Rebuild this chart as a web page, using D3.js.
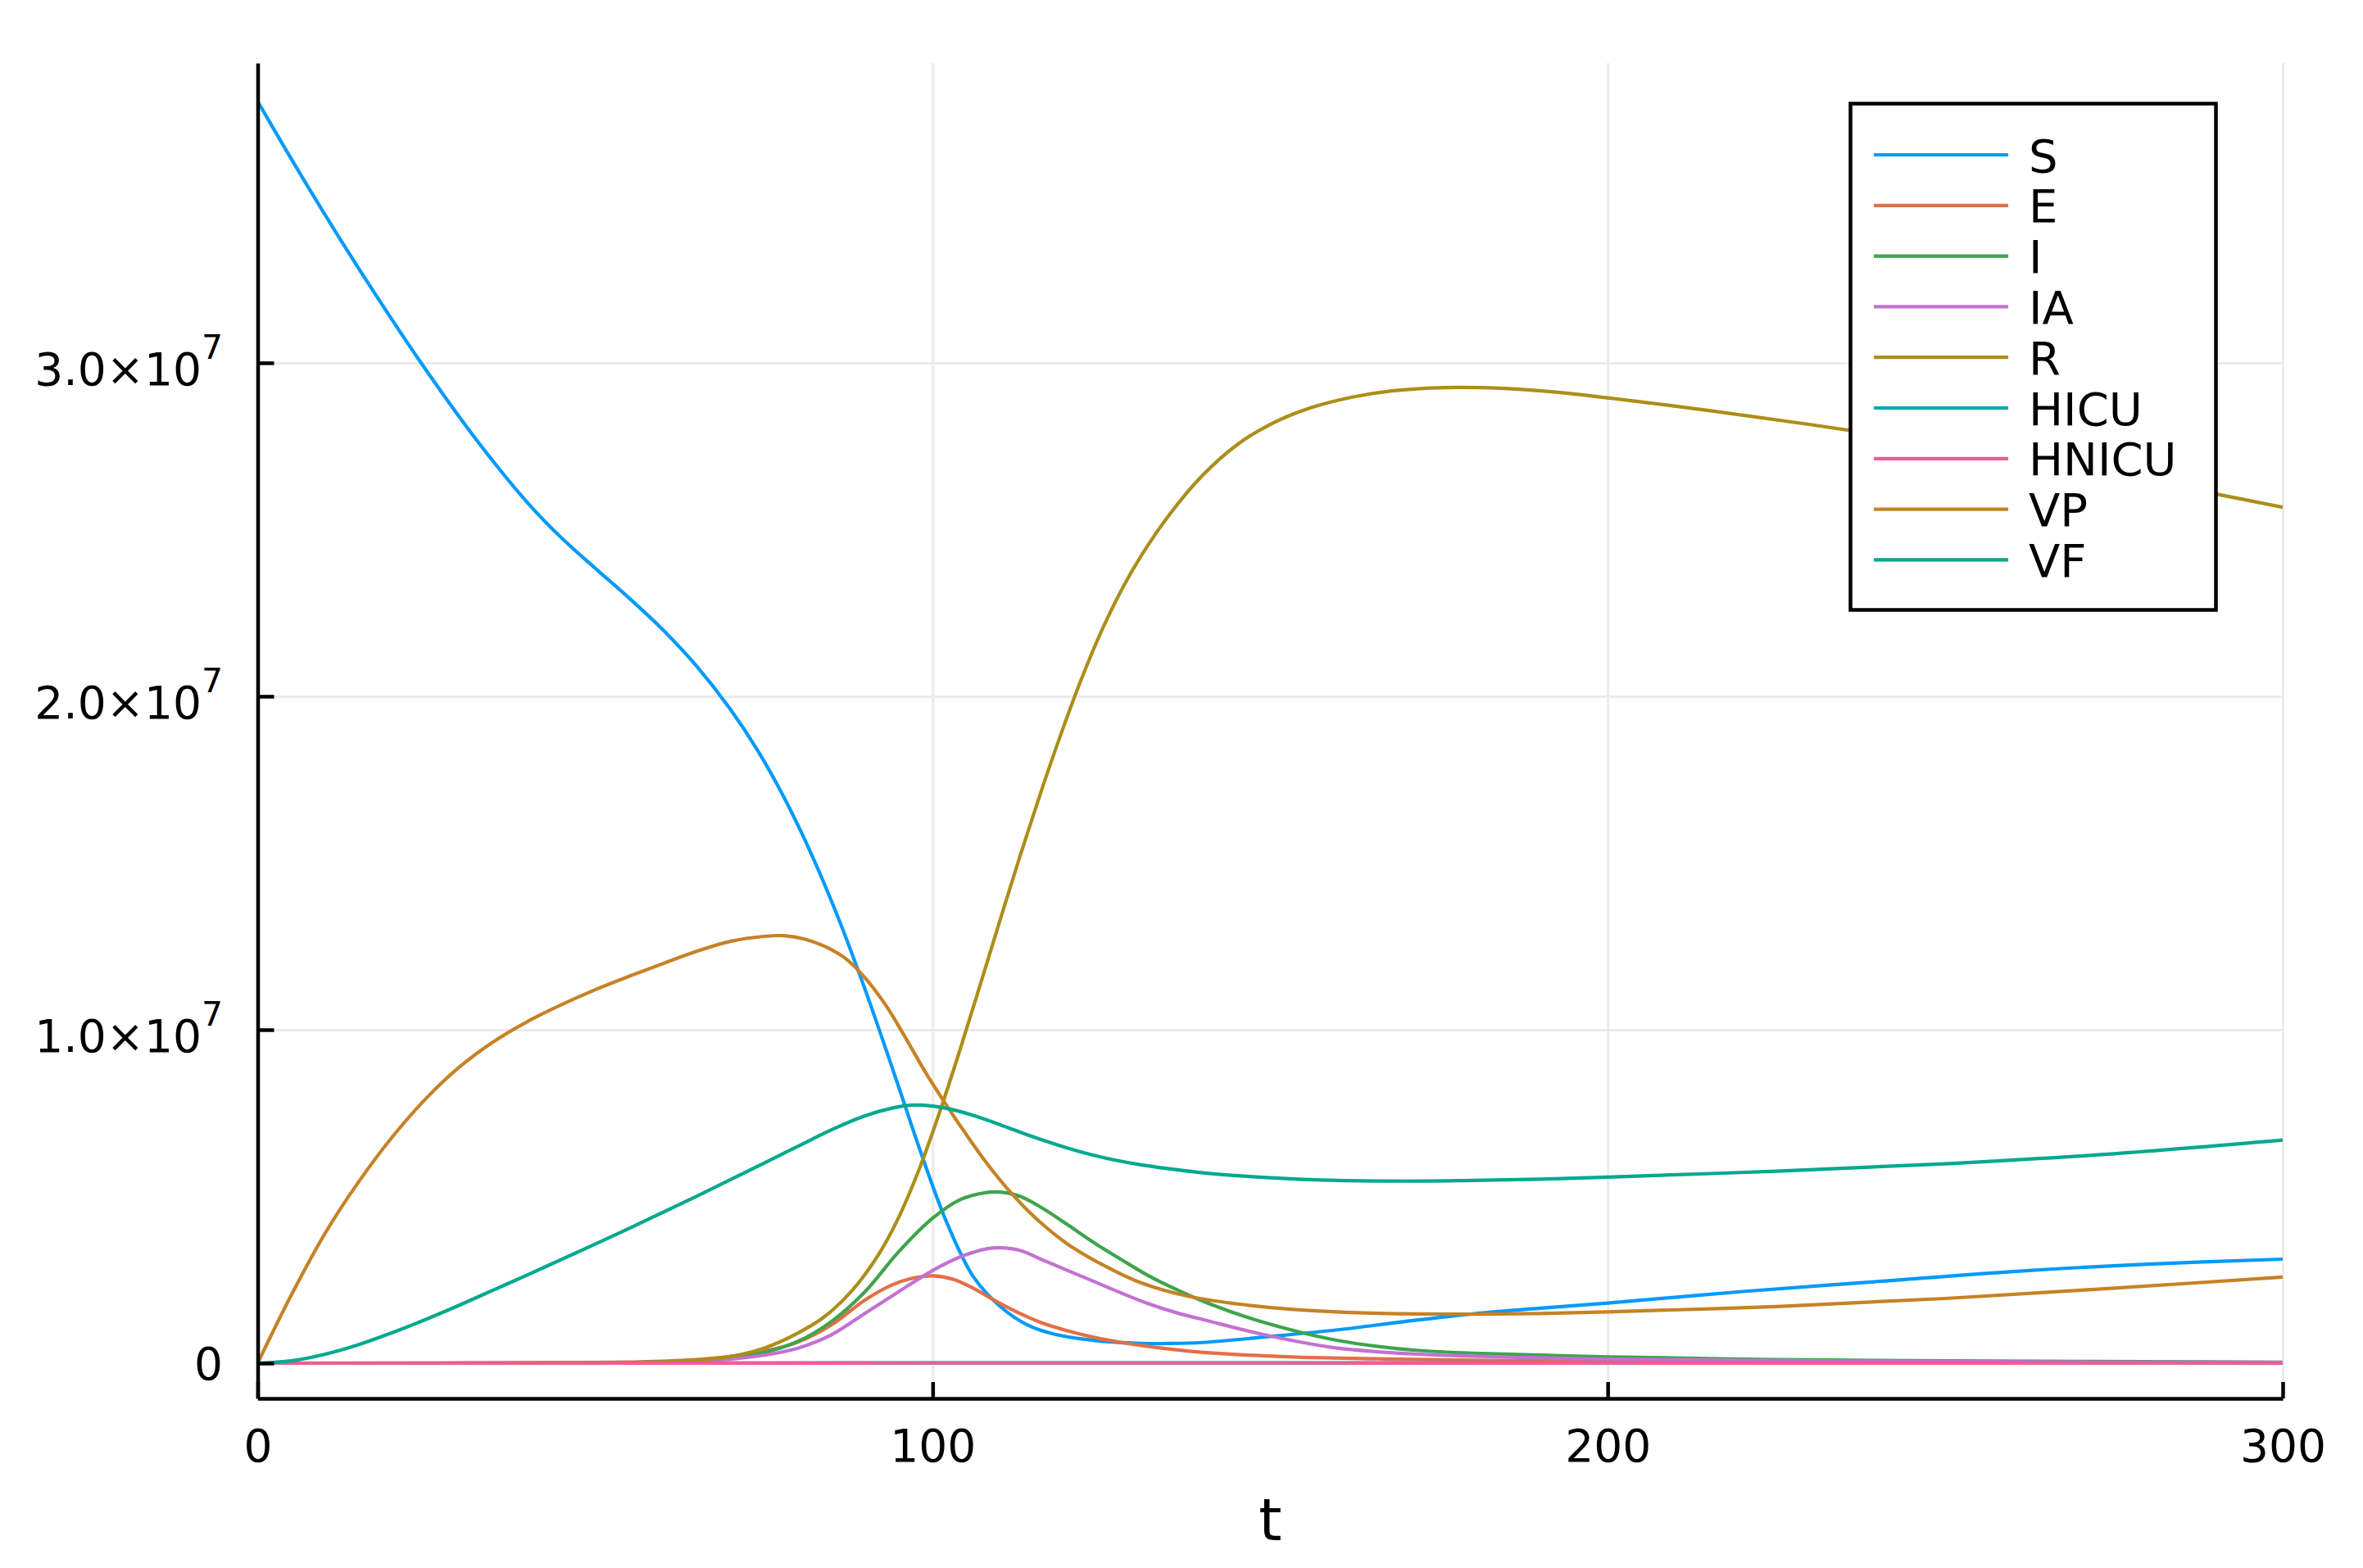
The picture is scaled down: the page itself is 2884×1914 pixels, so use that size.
<!DOCTYPE html>
<html><head><meta charset="utf-8">
<script src="https://cdn.jsdelivr.net/npm/d3@7"></script>
<style>body{margin:0;background:#fff}</style>
</head><body>
<svg id="c" width="2884" height="1914"></svg>
<script>
// ---- data (values in units of 1e7) ----
const UNIT = 1e7;
const seriesNames  = ["S","E","I","IA","R","HICU","HNICU","VP","VF"];
const seriesColors = ["#009AFA","#E36F47","#3EA44E","#C371D2","#AC8E18","#00AAAE","#ED5E93","#C68225","#00A98D"];
const xTicks = [0,100,200,300];
const yTicks = [0,1e7,2e7,3e7];
const yTickLabels = [["0",""],["1.0×10","7"],["2.0×10","7"],["3.0×10","7"]];
const xLabel = "t";

const tS = [0,6,12,18,24,32,40,45,50,55,60,65,70,74,78,82,86,90,94,96,98,102,106,110,114,118,124,130,135,140,150,160,170,180,190,200,220,240,260,280,300];
const vS = [3.784,3.577,3.378,3.188,3.006,2.78,2.58,2.475,2.384,2.295,2.2,2.091,1.962,1.84,1.696,1.528,1.336,1.12,0.886,0.766,0.646,0.426,0.26,0.17,0.115,0.087,0.068,0.06,0.059,0.062,0.08,0.10,0.125,0.148,0.165,0.18,0.215,0.245,0.275,0.297,0.312];

const tE = [0,50,60,65,70,75,80,85,90,94,97,100,103,106,109,112,116,120,124,128,132,138,145,154,166,180,200,250,300];
const vE = [0,0.002,0.006,0.011,0.02,0.036,0.063,0.115,0.19,0.235,0.255,0.262,0.252,0.225,0.19,0.158,0.122,0.097,0.077,0.062,0.05,0.036,0.026,0.018,0.013,0.009,0.006,0.003,0.002];

const tI = [0,50,60,65,70,75,80,85,90,95,100,104,108,110,113,116,120,124,128,132,136,141,147,154,160,166,172,180,190,200,225,250,300];
const vI = [0,0.001,0.004,0.008,0.015,0.032,0.065,0.125,0.215,0.335,0.435,0.49,0.512,0.513,0.5,0.468,0.415,0.36,0.31,0.262,0.222,0.178,0.135,0.095,0.068,0.05,0.038,0.03,0.024,0.019,0.011,0.007,0.003];

const tIA = [0,50,60,65,70,75,80,85,90,95,100,104,108,110,113,116,120,124,128,132,136,141,147,154,160,166,172,180,190,200,250,300];
const vIA = [0,0.001,0.003,0.006,0.012,0.024,0.045,0.085,0.15,0.215,0.278,0.318,0.343,0.346,0.338,0.312,0.278,0.244,0.21,0.178,0.152,0.126,0.095,0.065,0.045,0.034,0.027,0.021,0.016,0.012,0.005,0.002];

const tR = [0,50,60,65,70,75,80,84,88,92,95,98,101,104,107,110,113,116,119,122,125,128,131,135,140,145,150,156,162,168,176,184,192,200,215,230,245,260,275,290,300];
const vR = [0,0.001,0.004,0.009,0.02,0.045,0.09,0.14,0.2165,0.3265,0.439,0.5815,0.751,0.937,1.132,1.33,1.525,1.711,1.8865,2.05,2.1955,2.32,2.425,2.543,2.663,2.753,2.8155,2.865,2.8965,2.916,2.926,2.924,2.913,2.895,2.857,2.815,2.77,2.72,2.666,2.607,2.567];

const tHICU = [0,50,100,150,200,250,300];
const vHICU = [0,0,0.001,0.001,0.0005,0.0003,0.0002];

const tHNICU = [0,50,100,150,200,250,300];
const vHNICU = [0,0,0.0005,0.0005,0.0003,0.0002,0.0001];

const tVP = [0,5,10,15,20,25,30,35,40,45,50,55,60,65,70,75,78,81,84,87,90,93,96,99,102,105,108,111,115,120,125,131,138,145,153,165,178,190,200,225,250,275,300];
const vVP = [0,0.205,0.39,0.545,0.68,0.795,0.89,0.965,1.025,1.075,1.12,1.16,1.198,1.235,1.265,1.28,1.282,1.272,1.25,1.215,1.155,1.075,0.975,0.87,0.775,0.685,0.6,0.525,0.44,0.357,0.297,0.24,0.2,0.178,0.162,0.15,0.147,0.149,0.154,0.17,0.194,0.225,0.258];

const tVF = [0,5,10,15,20,25,30,35,40,45,50,55,60,65,70,75,80,85,90,94,97,100,103,106,110,115,120,125,130,135,140,150,160,170,180,190,200,225,250,275,300];
const vVF = [0,0.007,0.027,0.056,0.092,0.132,0.175,0.22,0.265,0.311,0.357,0.404,0.452,0.5,0.55,0.6,0.65,0.70,0.742,0.765,0.774,0.771,0.76,0.743,0.715,0.678,0.645,0.618,0.598,0.583,0.571,0.556,0.548,0.546,0.548,0.552,0.558,0.576,0.598,0.628,0.669];

const seriesT = [tS,tE,tI,tIA,tR,tHICU,tHNICU,tVP,tVF];
const seriesV = [vS,vE,vI,vIA,vR,vHICU,vHNICU,vVP,vVF];

// ---- chart ----
const W = 2884, H = 1914;
const FONT = "'DejaVu Sans', sans-serif";
const pLeft = 314.5, pRight = 2786, pTop = 77, pBottom = 1707;
const svg = d3.select("#c");
svg.append("rect").attr("width", W).attr("height", H).attr("fill", "#fff");

const x = d3.scaleLinear().domain([0, 300]).range([pLeft, pRight]);
const y = d3.scaleLinear().domain([-0.1057e7, 3.899e7]).range([pBottom, pTop]);

// grid
const gx = svg.append("g").attr("transform", `translate(0,${pBottom})`)
  .call(d3.axisBottom(x).tickValues(xTicks).tickSize(-(pBottom - pTop)).tickFormat(""));
gx.select(".domain").remove();
gx.selectAll("line").attr("stroke", "#ebebeb").attr("stroke-width", 3);
const gy = svg.append("g").attr("transform", `translate(${pLeft},0)`)
  .call(d3.axisLeft(y).tickValues(yTicks).tickSize(-(pRight - pLeft)).tickFormat(""));
gy.select(".domain").remove();
gy.selectAll("line").attr("stroke", "#ebebeb").attr("stroke-width", 3);

// curves
svg.append("clipPath").attr("id", "clip").append("rect")
  .attr("x", pLeft).attr("y", pTop).attr("width", pRight - pLeft).attr("height", pBottom - pTop);
const line = d3.line().curve(d3.curveCatmullRom.alpha(0.5)).x(d => x(d[0])).y(d => y(d[1] * UNIT));
const plot = svg.append("g").attr("clip-path", "url(#clip)");
seriesNames.forEach((n, i) => {
  const pts = seriesT[i].map((t, k) => [t, seriesV[i][k]]);
  plot.append("path").datum(pts).attr("d", line)
    .attr("fill", "none").attr("stroke", seriesColors[i]).attr("stroke-width", 4.2)
    .attr("stroke-linejoin", "round");
});

// axes
const ax = svg.append("g").attr("transform", `translate(0,${pBottom})`)
  .call(d3.axisBottom(x).tickValues(xTicks).tickSizeInner(-20).tickSizeOuter(0).tickPadding(38).tickFormat(d3.format("d")));
const ay = svg.append("g").attr("transform", `translate(${pLeft},0)`)
  .call(d3.axisLeft(y).tickValues(yTicks).tickSizeInner(-20).tickSizeOuter(0).tickPadding(42.5).tickFormat(""));
[ax, ay].forEach(g => {
  g.select(".domain").attr("stroke", "#000").attr("stroke-width", 4.5);
  g.selectAll(".tick line").attr("stroke", "#000").attr("stroke-width", 4.5);
  g.selectAll("text").attr("font-family", FONT).attr("font-size", 55).attr("fill", "#000");
});
ay.selectAll(".tick text").each(function(d) {
  const lab = yTickLabels[yTicks.indexOf(d)];
  const t = d3.select(this).attr("dy", null).attr("y", lab[1] ? 27 : 20);
  t.text(null);
  t.append("tspan").text(lab[0]);
  if (lab[1]) t.append("tspan").attr("font-size", 41).attr("dy", -32).text(lab[1]);
});

svg.append("text").attr("x", (pLeft + pRight) / 2).attr("y", 1880)
  .attr("text-anchor", "middle").attr("font-family", FONT).attr("font-size", 72).text(xLabel);

// legend
const lg = svg.append("g");
lg.append("rect").attr("x", 2258.5).attr("y", 126.5).attr("width", 446).attr("height", 618)
  .attr("fill", "#fff").attr("stroke", "#000").attr("stroke-width", 4.5);
seriesNames.forEach((n, i) => {
  const yy = 189 + i * 61.8;
  lg.append("line").attr("x1", 2287).attr("x2", 2451).attr("y1", yy).attr("y2", yy)
    .attr("stroke", seriesColors[i]).attr("stroke-width", 4.2);
  lg.append("text").attr("x", 2476).attr("y", yy + 20.5).attr("font-family", FONT)
    .attr("font-size", 56).attr("fill", "#000").text(n);
});
</script>
</body></html>
